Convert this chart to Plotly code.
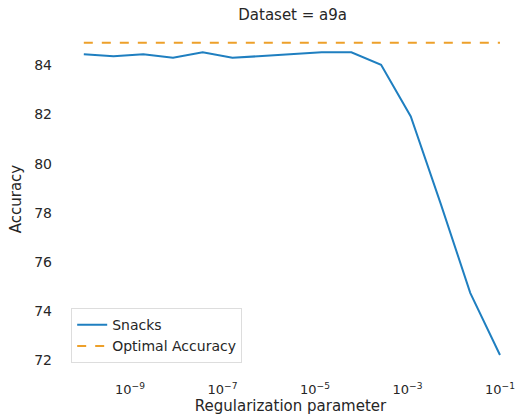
import numpy as np
import plotly.graph_objects as go

reg_params = [1e-10, 10**-9.357, 10**-8.714, 10**-8.071, 10**-7.429, 10**-6.786,
              10**-6.143, 10**-5.5, 10**-4.857, 10**-4.214, 10**-3.571, 10**-2.929,
              10**-2.286, 10**-1.643, 1e-1]
snacks_acc = [84.45, 84.37, 84.45, 84.31, 84.53, 84.31, 84.38, 84.45, 84.53, 84.53,
              84.02, 81.92, 78.4, 74.75, 72.22]
optimal_acc = [84.92] * len(reg_params)
tick_vals = [1e-9, 1e-7, 1e-5, 1e-3, 1e-1]
tick_text = ["10<sup>−9</sup>", "10<sup>−7</sup>", "10<sup>−5</sup>", "10<sup>−3</sup>", "10<sup>−1</sup>"]
y_ticks = [72, 74, 76, 78, 80, 82, 84]

txt = "#262626"
font = "DejaVu Sans"

fig = go.Figure()
fig.add_trace(go.Scatter(x=reg_params, y=snacks_acc, mode="lines", name="Snacks",
                         line=dict(color="#1f7fc0", width=2)))
fig.add_trace(go.Scatter(x=reg_params, y=optimal_acc, mode="lines", name="Optimal Accuracy",
                         line=dict(color="#eda02a", width=2, dash="dash")))

fig.update_layout(
    width=518, height=420,
    margin=dict(l=63, r=0, t=27, b=49),
    paper_bgcolor="white", plot_bgcolor="white",
    font=dict(family=font, size=14, color=txt),
    title=dict(text="Dataset = a9a", x=0.565, xanchor="center", y=0.966, yanchor="middle",
               font=dict(family=font, size=15, color=txt)),
    showlegend=True,
    legend=dict(x=0.018, y=0.023, xanchor="left", yanchor="bottom",
                bgcolor="rgba(255,255,255,0.8)", bordercolor="#dddddd", borderwidth=1,
                font=dict(family=font, size=14, color=txt), tracegroupgap=0),
    xaxis=dict(type="log", range=[-10.45, -0.61], tickvals=tick_vals, ticktext=tick_text,
               showgrid=False, zeroline=False, showline=False, ticks="",
               tickfont=dict(size=13), ticklabelstandoff=9,
               title=dict(text="Regularization parameter", standoff=3, font=dict(size=15))),
    yaxis=dict(range=[71.57, 85.56], tickvals=y_ticks, showgrid=False, zeroline=False,
               showline=False, ticks="", tickfont=dict(size=14), ticklabelstandoff=10,
               title=dict(text="Accuracy", standoff=8, font=dict(size=15))),
)

fig.write_html("out.html")
